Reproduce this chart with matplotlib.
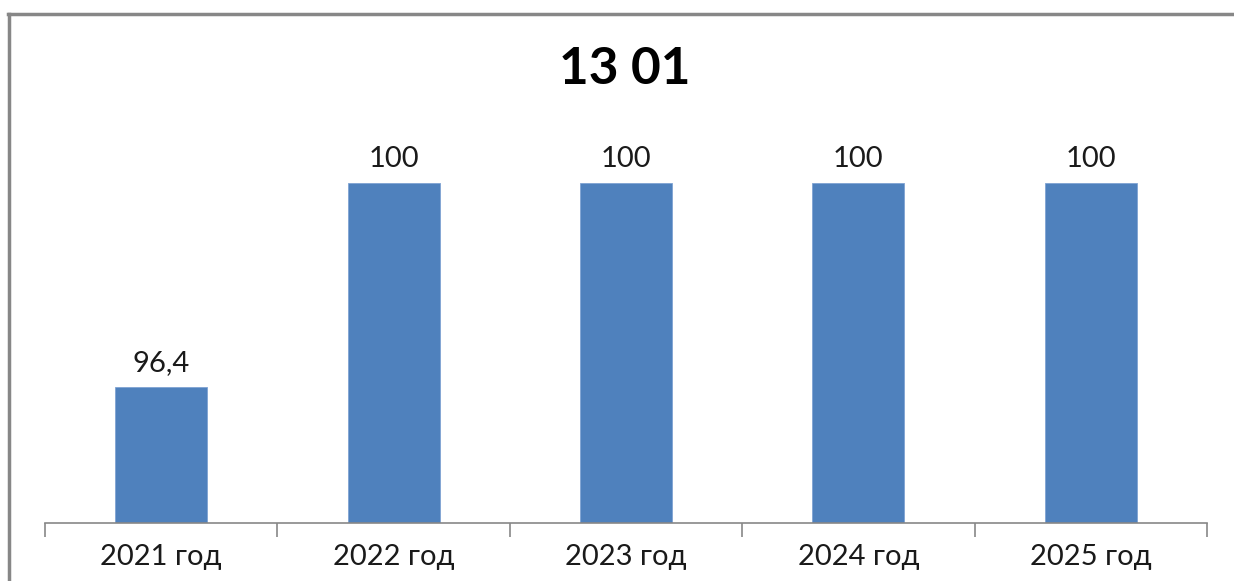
import matplotlib.pyplot as plt
from matplotlib.lines import Line2D

# данные
years = ['2021 год', '2022 год', '2023 год', '2024 год', '2025 год']
values = [96.4, 100, 100, 100, 100]
labels = ['96,4', '100', '100', '100', '100']

W, H = 1234, 581
fig = plt.figure(figsize=(W / 100, H / 100), dpi=100)
plt.rcParams['font.family'] = ['Lato', 'DejaVu Sans']

# рамка (обрезана справа и снизу)
fig.add_artist(Line2D([8 / W, 1], [1 - 14 / H, 1 - 14 / H], color='#878787', lw=2.5))
fig.add_artist(Line2D([9 / W, 9 / W], [0, 1 - 14 / H], color='#878787', lw=2.5))

left, right, bottom, top = 45, 1207, 523, 126
ax = fig.add_axes([left / W, 1 - bottom / H, (right - left) / W, (bottom - top) / H])

x = range(len(years))
ax.bar(x, values, width=0.396, color='#4F81BD', edgecolor='#7FA3D3', linewidth=0.6)
for i, (v, t) in enumerate(zip(values, labels)):
    ax.annotate(t, (i, v), xytext=(0, 8), textcoords='offset points',
                ha='center', va='bottom', fontsize=21, color='#1a1a1a')

ax.set_xlim(-0.5, len(years) - 0.5)
ax.set_ylim(94, 101)
ax.set_yticks([])
for s in ['left', 'right', 'top']:
    ax.spines[s].set_visible(False)
ax.spines['bottom'].set_color('#878787')
ax.spines['bottom'].set_linewidth(1.2)

ax.set_xticks([i + 0.5 for i in range(-1, len(years))], minor=False)
ax.set_xticklabels([])
ax.tick_params(axis='x', length=10, width=1.2, color='#878787')
ax.set_xticks(list(x), minor=True)
ax.set_xticklabels(years, minor=True, fontsize=21, color='#1a1a1a')
ax.tick_params(axis='x', which='minor', length=0, pad=15)

fig.text(625 / W, 1 - 70 / H, '13 01', ha='center', va='center',
         fontsize=37, fontweight='bold', color='black')

fig.savefig('out.png', dpi=100)
